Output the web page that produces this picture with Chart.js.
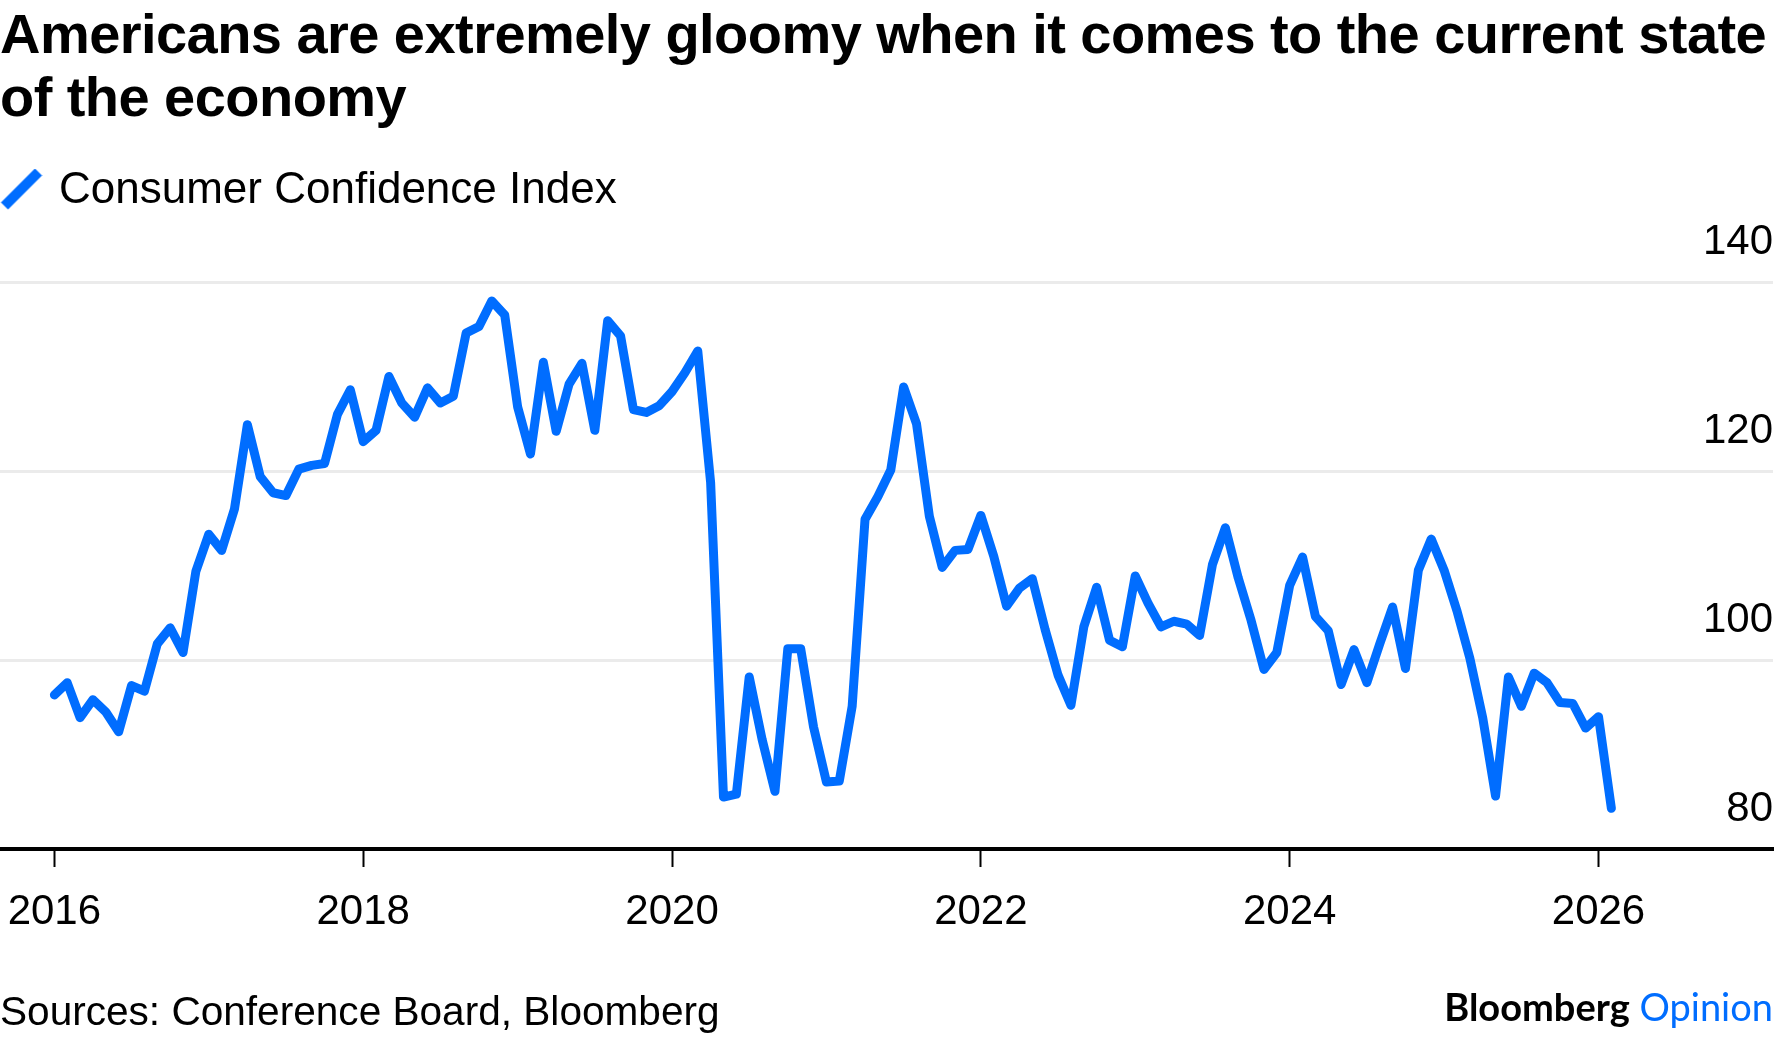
<!DOCTYPE html>
<html>
<head>
<meta charset="utf-8">
<script src="https://cdn.jsdelivr.net/npm/chart.js@4.4.1/dist/chart.umd.min.js"></script>
<style>
  html, body { margin: 0; padding: 0; background: #fff; }
  body { width: 1776px; height: 1038px; position: relative; overflow: hidden; font-family: "Liberation Sans", Arial, sans-serif; color: #000; }
  #chart { position: absolute; left: 0; top: 0; }
  .title { position: absolute; left: 0; top: 2px; font-weight: 700; font-size: 56px; line-height: 63px; letter-spacing: -0.55px; white-space: nowrap; }
  .source { position: absolute; left: 0; top: 991px; font-size: 40.6px; line-height: 40px; white-space: nowrap; }
  .logo { position: absolute; right: 3px; top: 987px; font-family: Lato, "Open Sans", sans-serif; font-size: 38px; line-height: 38px; white-space: nowrap; }
  .logo b { font-weight: 700; color: #000; }
  .logo span { font-weight: 400; color: #006dff; }
</style>
</head>
<body>
<div class="title">Americans are extremely gloomy when it comes to the current state<br>of the economy</div>
<canvas id="chart" width="1776" height="1038"></canvas>
<div class="source">Sources: Conference Board, Bloomberg</div>
<div class="logo"><b>Bloomberg</b> <span>Opinion</span></div>
<script>
const seriesName = "Consumer Confidence Index";
const BLUE = "#006dff";

// monthly readings, first one is Dec 2015 (plotted at month end)
const startYear = 2015;
const startMonth = 12;
const values = [
  96.3,
  97.6, 93.9, 95.8, 94.5, 92.4, 97.3, 96.7, 101.7, 103.4, 100.8, 109.4, 113.3, // 2016
  111.6, 116.0, 124.9, 119.4, 117.7, 117.4, 120.2, 120.6, 120.8, 126.0, 128.6, 123.1, // 2017
  124.3, 130.0, 127.2, 125.7, 128.8, 127.2, 127.9, 134.6, 135.3, 138.0, 136.5, 126.8, // 2018
  121.8, 131.5, 124.2, 129.2, 131.4, 124.3, 135.9, 134.3, 126.5, 126.2, 126.9, 128.4, // 2019
  130.4, 132.7, 118.8, 85.5, 85.8, 98.2, 91.6, 86.1, 101.2, 101.2, 92.9, 87.1, // 2020
  87.2, 95.1, 114.9, 117.3, 120.1, 128.9, 125.0, 115.2, 109.8, 111.6, 111.7, 115.3, // 2021
  111.0, 105.7, 107.6, 108.6, 103.2, 98.4, 95.2, 103.5, 107.7, 102.1, 101.4, 108.9, // 2022
  106.0, 103.5, 104.1, 103.8, 102.6, 110.1, 114.0, 108.7, 104.2, 99.0, 100.8, 107.9, // 2023
  110.9, 104.6, 103.1, 97.4, 101.1, 97.6, 101.7, 105.6, 99.1, 109.5, 112.8, 109.5, // 2024
  105.2, 100.2, 93.9, 85.6, 98.2, 95.1, 98.6, 97.6, 95.5, 95.4, 92.8, 94.0, // 2025
  84.3 // Jan 2026
];
const yearTicks = [2016, 2018, 2020, 2022, 2024, 2026];
const valueTicks = [80, 100, 120, 140];

// month end as decimal year
const points = values.map((v, i) => ({ x: startYear + (startMonth + i) / 12, y: v }));

// slash icon for the legend
const icon = document.createElement("canvas");
icon.width = 48;
icon.height = 48;
const ic = icon.getContext("2d");
ic.strokeStyle = BLUE;
ic.lineWidth = 10;
ic.beginPath();
ic.moveTo(10, 39);
ic.lineTo(44, 5);
ic.stroke();

Chart.defaults.font.family = "'Liberation Sans', Arial, sans-serif";
Chart.defaults.color = "#000";

const legendHeight = {
  id: "legendHeight",
  beforeInit(chart) {
    const fit = chart.legend.fit;
    chart.legend.fit = function () {
      fit.bind(chart.legend)();
      this.height = 113;
    };
  },
};

const ctx = document.getElementById("chart");
const myChart = new Chart(ctx, {
  type: "line",
  data: {
    datasets: [
      {
        label: seriesName,
        data: points,
        borderColor: BLUE,
        backgroundColor: BLUE,
        borderWidth: 9,
        borderJoinStyle: "round",
        borderCapStyle: "round",
        pointRadius: 0,
        tension: 0,
        fill: false,
      },
    ],
  },
  options: {
    responsive: false,
    animation: false,
    devicePixelRatio: 1,
    layout: {
      padding: { top: 169, right: 3, bottom: 0, left: 0 },
    },
    plugins: {
      legend: {
        display: true,
        position: "top",
        align: "start",
        labels: {
          usePointStyle: true,
          pointStyle: icon,
          boxWidth: 37,
          boxHeight: 44,
          padding: 0,
          color: "#000",
          font: { size: 44 },
        },
      },
      tooltip: { enabled: false },
    },
    scales: {
      x: {
        type: "linear",
        min: 2015.648,
        max: 2027.13,
        afterBuildTicks: (s) => {
          s.ticks = yearTicks.map((v) => ({ value: v }));
        },
        afterFit: (s) => {
          s.height = 189;
          s.paddingLeft = 0;
          s.paddingRight = 0;
        },
        grid: {
          drawOnChartArea: false,
          drawTicks: true,
          tickLength: 18,
          tickColor: "#000",
          tickWidth: 2,
        },
        border: { display: true, color: "#000", width: 4 },
        ticks: {
          padding: 20,
          color: "#000",
          maxRotation: 0,
          autoSkip: false,
          font: { size: 42 },
          callback: (v) => String(v),
        },
      },
      y: {
        type: "linear",
        position: "right",
        min: 80,
        max: 140,
        afterBuildTicks: (s) => {
          s.ticks = valueTicks.map((v) => ({ value: v }));
        },
        grid: { color: "#ebebeb", lineWidth: 3, drawTicks: false },
        border: { display: false },
        ticks: {
          mirror: true,
          padding: 0,
          labelOffset: -40,
          color: "#000",
          font: { size: 42 },
          callback: (v) => String(v),
        },
      },
    },
  },
  plugins: [legendHeight],
});
</script>
</body>
</html>
